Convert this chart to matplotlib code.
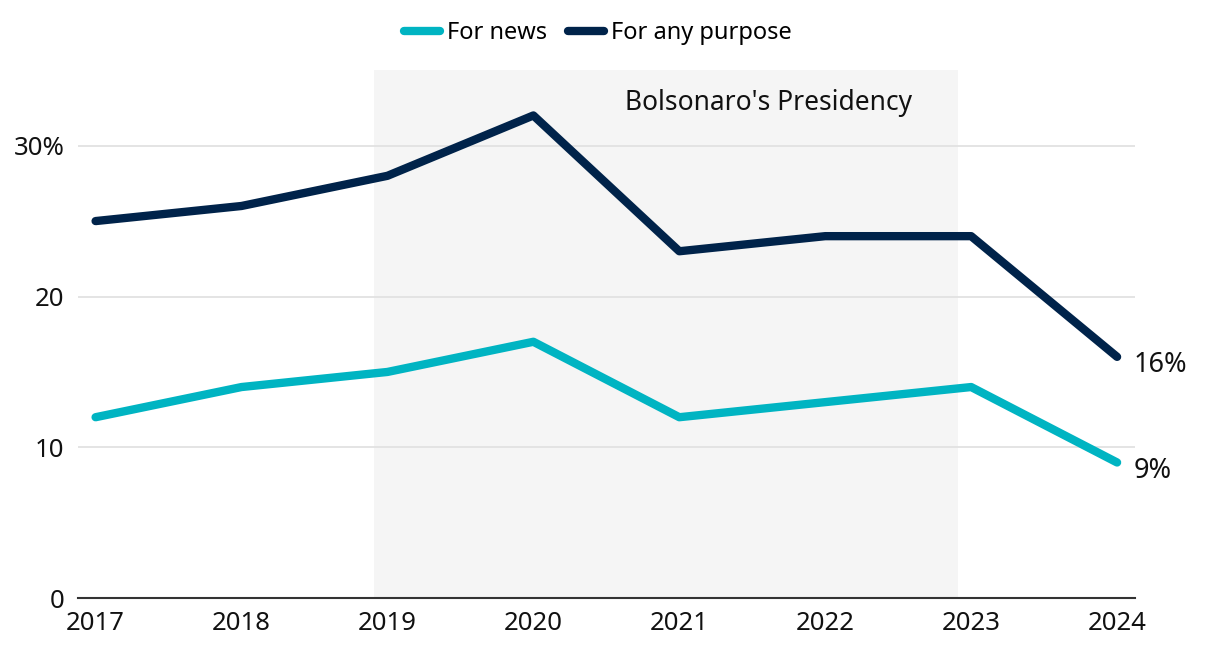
import matplotlib
matplotlib.use("Agg")
import matplotlib.pyplot as plt

plt.rcParams['font.family'] = ['Noto Sans', 'DejaVu Sans']

years = [2017, 2018, 2019, 2020, 2021, 2022, 2023, 2024]
news = [12, 14, 15, 17, 12, 13, 14, 9]
any_purpose = [25, 26, 28, 32, 23, 24, 24, 16]
yticks = [0, 10, 20, 30]
ytick_labels = ['0', '10', '20', '30%']

teal = '#00b4c2'
navy = '#00234a'

fig = plt.figure(figsize=(12.2, 6.56), dpi=100)
ax = fig.add_axes([0.064, 0.088, 0.866, 0.805])

# presidency shading
ax.axvspan(2018.91, 2022.91, color='#f5f5f5', zorder=0, lw=0)
ax.text(2021.61, 32.85, "Bolsonaro's Presidency", fontsize=19, ha='center', va='center', color='#111111')

ax.plot(years, news, color=teal, lw=6, solid_capstyle='round', solid_joinstyle='round', label='For news', zorder=3)
ax.plot(years, any_purpose, color=navy, lw=6, solid_capstyle='round', solid_joinstyle='round', label='For any purpose', zorder=3)

# end labels
ax.annotate(f'{news[-1]}%', (years[-1], news[-1]), xytext=(12, -6), textcoords='offset points',
            fontsize=19.5, va='center', ha='left', color='#111111', annotation_clip=False)
ax.annotate(f'{any_purpose[-1]}%', (years[-1], any_purpose[-1]), xytext=(12, -6), textcoords='offset points',
            fontsize=19.5, va='center', ha='left', color='#111111', annotation_clip=False)

ax.set_xlim(2016.88, 2024.12)
ax.set_ylim(0, 35)
ax.set_xticks(years)
ax.set_xticklabels([str(y) for y in years], fontsize=18.5, color='#111111')
ax.set_yticks(yticks)
ax.set_yticklabels(ytick_labels, fontsize=18.5, color='#111111')
ax.tick_params(axis='both', length=0)
ax.tick_params(axis='x', pad=9)
ax.tick_params(axis='y', pad=10)

ax.grid(axis='y', color='#e2e2e2', lw=1.3, zorder=1)
ax.set_axisbelow(True)
for s in ['top', 'right', 'left']:
    ax.spines[s].set_visible(False)
ax.spines['bottom'].set_color('#333333')
ax.spines['bottom'].set_linewidth(1.5)
ax.spines['bottom'].set_zorder(4)

leg = fig.legend(loc='upper center', bbox_to_anchor=(0.49, 1.0), ncol=2, frameon=False,
                 fontsize=17, handlelength=1.5, handletextpad=0.3, columnspacing=0.9)
for line in leg.get_lines():
    line.set_linewidth(6)
    line.set_solid_capstyle('round')

fig.savefig('out.png', dpi=100)
